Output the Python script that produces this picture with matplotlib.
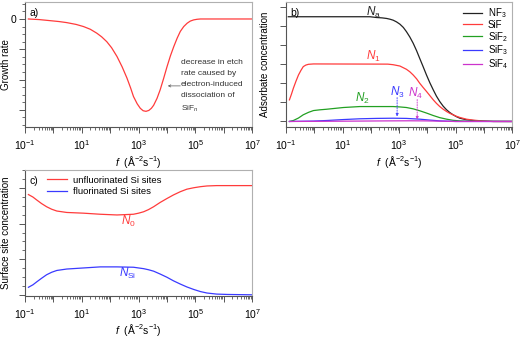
import numpy as np
import matplotlib.pyplot as plt
from matplotlib.ticker import FixedLocator, FuncFormatter, MultipleLocator, NullFormatter

plt.rcParams['font.family'] = ['Liberation Sans', 'DejaVu Sans']
plt.rcParams['mathtext.fontset'] = 'custom'
plt.rcParams['mathtext.rm'] = 'Liberation Sans'
plt.rcParams['mathtext.it'] = 'Liberation Sans:italic'

# --- panel a: growth rate (log10 f, value)
a_logf = [-0.88, -0.5, -0.12, 0.2, 0.47, 0.8, 1.06, 1.3, 1.53, 1.7, 1.88, 2.05, 2.24, 2.42, 2.59, 2.72, 2.82, 2.95,
          3.06, 3.16, 3.26, 3.36, 3.45, 3.53, 3.65, 3.76, 3.88, 4.0, 4.12, 4.24, 4.36, 4.47, 4.59, 4.71, 4.82, 4.94,
          5.06, 5.18, 7.0]
a_rate = [0.0, -0.02, -0.055, -0.085, -0.12, -0.18, -0.25, -0.34, -0.47, -0.59, -0.75, -0.95, -1.24, -1.58, -1.95,
          -2.28, -2.56, -2.80, -2.95, -3.03, -3.05, -3.02, -2.95, -2.85, -2.62, -2.34, -1.97, -1.58, -1.22, -0.91,
          -0.63, -0.41, -0.25, -0.14, -0.07, -0.03, -0.01, 0.0, 0.0]

# --- panel b: adsorbate concentrations
b_na_logf = [-0.92, 1.97, 2.2, 2.4, 2.56, 2.68, 2.79, 2.91, 3.03, 3.15, 3.26, 3.38, 3.50, 3.62, 3.73, 3.85, 3.97,
             4.09, 4.21, 4.32, 4.44, 4.56, 4.68, 4.80, 4.91, 5.03, 5.15, 5.38, 5.62, 6.0, 6.33, 7.0]
b_na = [5.48, 5.48, 5.44, 5.42, 5.39, 5.35, 5.30, 5.21, 5.09, 4.92, 4.70, 4.42, 4.09, 3.70, 3.30, 2.87, 2.43,
        2.02, 1.65, 1.33, 1.04, 0.80, 0.61, 0.46, 0.35, 0.25, 0.17, 0.09, 0.05, 0.015, 0.0, 0.0]
b_n1_logf = [-0.88, -0.81, -0.74, -0.65, -0.56, -0.47, -0.39, -0.3, -0.21, -0.03, 2.6, 2.79, 3.03, 3.26, 3.38,
             3.50, 3.62, 3.73, 3.85, 3.97, 4.09, 4.21, 4.32, 4.44, 4.56, 4.68, 4.80, 4.91, 5.03, 5.15, 5.38, 5.62,
             6.0, 6.33, 7.0]
b_n1 = [1.13, 1.42, 1.74, 2.10, 2.43, 2.68, 2.87, 2.95, 2.99, 3.01, 3.0, 2.97, 2.90, 2.73, 2.60, 2.43, 2.23, 2.00,
        1.78, 1.57, 1.35, 1.13, 0.95, 0.78, 0.64, 0.52, 0.42, 0.35, 0.27, 0.21, 0.12, 0.07, 0.02, 0.0, 0.0]
b_n2_logf = [-0.88, -0.74, -0.56, -0.39, -0.2, -0.03, 0.2, 0.44, 1.03, 1.61, 2.2, 2.79, 3.03, 3.26, 3.5, 3.73,
             3.97, 4.21, 4.44, 4.68, 4.91, 5.15, 5.5, 7.0]
b_n2 = [0.0, 0.05, 0.18, 0.35, 0.48, 0.57, 0.61, 0.64, 0.73, 0.78, 0.78, 0.78, 0.76, 0.73, 0.66, 0.56, 0.44, 0.31,
        0.20, 0.12, 0.06, 0.03, 0.01, 0.0]
b_n3_logf = [-0.88, -0.03, 0.44, 1.03, 1.61, 2.2, 2.79, 3.26, 3.73, 4.1, 4.44, 5.0, 7.0]
b_n3 = [0.0, 0.02, 0.05, 0.10, 0.14, 0.16, 0.17, 0.16, 0.12, 0.07, 0.03, 0.0, 0.0]
b_n4_logf = [-0.88, 0.5, 1.61, 2.6, 3.38, 3.9, 4.3, 5.0, 7.0]
b_n4 = [0.0, 0.01, 0.02, 0.03, 0.035, 0.03, 0.02, 0.0, 0.0]
b_labels = ['NF$_3$', 'SiF', 'SiF$_2$', 'SiF$_3$', 'SiF$_4$']

# --- panel c: surface sites
c_logf = [-0.88, -0.72, -0.59, -0.42, -0.24, -0.06, 0.12, 0.47, 1.06, 1.65, 2.24, 2.82, 3.0, 3.18, 3.35, 3.53,
          3.76, 4.0, 4.23, 4.47, 4.7, 4.94, 5.18, 5.41, 5.75, 6.12, 7.0]
c_n0 = [2.81, 2.74, 2.66, 2.56, 2.47, 2.40, 2.35, 2.31, 2.29, 2.26, 2.24, 2.26, 2.29, 2.33, 2.39, 2.47, 2.59, 2.70,
        2.80, 2.89, 2.96, 3.0, 3.03, 3.05, 3.06, 3.06, 3.06]
c_nsi = [0.22, 0.29, 0.37, 0.47, 0.57, 0.64, 0.69, 0.73, 0.76, 0.79, 0.79, 0.78, 0.76, 0.74, 0.71, 0.67, 0.59, 0.50,
         0.40, 0.31, 0.23, 0.16, 0.10, 0.06, 0.03, 0.02, 0.01]
c_labels = ['unfluorinated Si sites', 'fluorinated Si sites']

red = '#ff3b3b'
green = '#22a022'
blue = '#3a3aff'
magenta = '#cc33cc'
black = '#222222'

fig = plt.figure(figsize=(5.21, 3.37), dpi=100)
ax_a = fig.add_axes([0.048, 0.622, 0.436, 0.372])
ax_b = fig.add_axes([0.549, 0.622, 0.434, 0.372])
ax_c = fig.add_axes([0.048, 0.122, 0.436, 0.374])

def xfmt(v, p):
    e = int(round(np.log10(v)))
    return r'10$^{%d}$' % e if e % 2 else ''

def style(ax):
    ax.set_xscale('log')
    ax.set_xlim(1e-1, 1e7)
    ax.xaxis.set_major_locator(FixedLocator([10.0**e for e in range(-1, 8)]))
    ax.xaxis.set_minor_locator(FixedLocator([m * 10.0**e for e in range(-1, 7) for m in range(2, 10)]))
    ax.xaxis.set_major_formatter(FuncFormatter(xfmt))
    ax.xaxis.set_minor_formatter(NullFormatter())
    ax.tick_params(which='major', length=4, width=0.7, color='#555555', labelsize=7.5, pad=4)
    ax.tick_params(which='minor', length=2.5, width=0.6, color='#555555')
    ax.tick_params(axis='y', labelsize=7.5, pad=2)
    for s in ['left', 'bottom']:
        ax.spines[s].set_color('#555555')
        ax.spines[s].set_linewidth(0.8)
    for s in ['top', 'right']:
        ax.spines[s].set_color('#b0b0b0')
        ax.spines[s].set_linewidth(0.8)
    ax.set_xlabel(r'$f$  (Å$^{-2}$s$^{-1}$)', fontsize=7.5, labelpad=1)

# panel a
ax_a.plot(10.0**np.array(a_logf), a_rate, color=red, lw=0.9)
style(ax_a)
ax_a.set_ylim(-3.58, 0.56)
ax_a.yaxis.set_major_locator(MultipleLocator(1))
ax_a.yaxis.set_minor_locator(MultipleLocator(0.25))
ax_a.yaxis.set_major_formatter(FuncFormatter(lambda v, p: '0' if abs(v) < 1e-9 else ''))
ax_a.set_ylabel('Growth rate', fontsize=7)
ax_a.yaxis.set_label_coords(-0.06, 0.5)
ax_a.text(0.02, 0.95, 'a)', transform=ax_a.transAxes, fontsize=7.5, va='top')
ax_a.text(10**4.49, -1.33, 'decrease in etch\nrate caused by\nelectron-induced\ndissociation of\nSiF$_n$',
          fontsize=6, va='top', ha='left', linespacing=1.75, color='#333333')
ax_a.annotate('', xy=(10**4.03, -2.21), xytext=(10**4.47, -2.21),
              arrowprops=dict(arrowstyle='->', lw=0.5, color='#555555', shrinkA=0, shrinkB=0, mutation_scale=4))

# panel b
b_series = [(b_na_logf, b_na, black), (b_n1_logf, b_n1, red), (b_n2_logf, b_n2, green),
            (b_n3_logf, b_n3, blue), (b_n4_logf, b_n4, magenta)]
for (lf, vals, col), lab in zip(b_series, b_labels):
    ax_b.plot(10.0**np.array(lf), vals, color=col, lw=0.9, label=lab)
style(ax_b)
ax_b.set_ylim(-0.31, 6.25)
ax_b.yaxis.set_major_locator(MultipleLocator(1))
ax_b.yaxis.set_major_formatter(NullFormatter())
ax_b.set_ylabel('Adsorbate concentration', fontsize=7)
ax_b.yaxis.set_label_coords(-0.07, 0.5)
ax_b.text(0.02, 0.95, 'b)', transform=ax_b.transAxes, fontsize=7.5, va='top')
ax_b.text(10**2.08, 5.72, '$N_\\mathrm{a}$', color=black, fontsize=8.5, ha='center', va='center')
ax_b.text(10**2.08, 3.39, '$N_1$', color=red, fontsize=8.5, ha='center', va='center')
ax_b.text(10**1.69, 1.2, '$N_2$', color=green, fontsize=8.5, ha='center', va='center')
ax_b.text(10**2.93, 1.51, '$N_3$', color=blue, fontsize=8.5, ha='center', va='center')
ax_b.text(10**3.57, 1.46, '$N_4$', color=magenta, fontsize=8.5, ha='center', va='center')
ax_b.annotate('', xy=(10**2.93, 0.26), xytext=(10**2.93, 1.25),
              arrowprops=dict(arrowstyle='-|>', lw=0.6, ls=(0, (1.5, 1.5)), color=blue, shrinkA=0, shrinkB=0, mutation_scale=4))
ax_b.annotate('', xy=(10**3.64, 0.1), xytext=(10**3.64, 1.15),
              arrowprops=dict(arrowstyle='-|>', lw=0.6, ls=(0, (1.5, 1.5)), color=magenta, shrinkA=0, shrinkB=0, mutation_scale=4))
ax_b.legend(loc='upper right', frameon=False, fontsize=7, handlelength=2.0, labelspacing=0.0,
            borderaxespad=0.0, handletextpad=0.6)

# panel c
ax_c.plot(10.0**np.array(c_logf), c_n0, color=red, lw=0.9, label=c_labels[0])
ax_c.plot(10.0**np.array(c_logf), c_nsi, color=blue, lw=0.9, label=c_labels[1])
style(ax_c)
ax_c.set_ylim(-0.02, 3.5)
ax_c.yaxis.set_major_locator(MultipleLocator(1))
ax_c.yaxis.set_minor_locator(MultipleLocator(0.25))
ax_c.yaxis.set_major_formatter(NullFormatter())
ax_c.set_ylabel('Surface site concentration', fontsize=7)
ax_c.yaxis.set_label_coords(-0.06, 0.5)
ax_c.text(0.02, 0.95, 'c)', transform=ax_c.transAxes, fontsize=7.5, va='top')
ax_c.text(10**2.63, 2.06, '$N_0$', color=red, fontsize=8.5, ha='center', va='center')
ax_c.text(10**2.63, 0.61, '$N_\\mathrm{Si}$', color=blue, fontsize=8.5, ha='center', va='center')
ax_c.legend(loc='upper left', frameon=False, fontsize=6.8, handlelength=2.2, labelspacing=0.25,
            borderaxespad=0.2, handletextpad=0.6, bbox_to_anchor=(0.07, 1.0))

fig.savefig('out.png', dpi=100)
